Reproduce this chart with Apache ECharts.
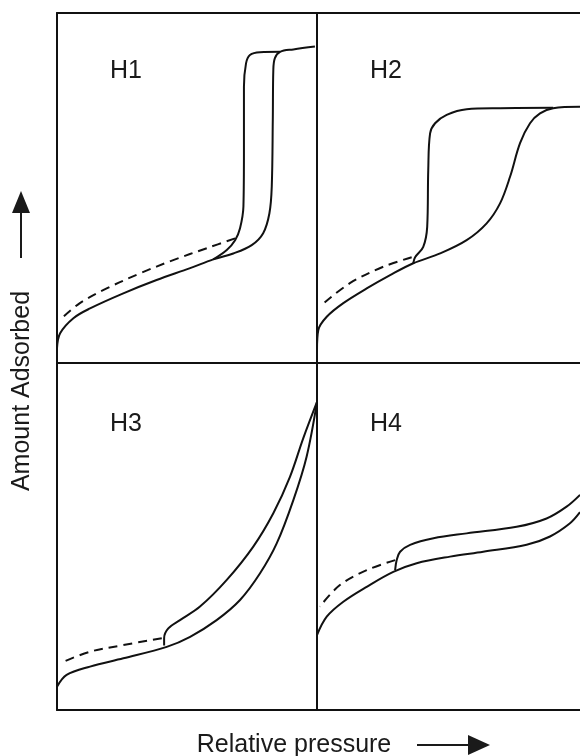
<!DOCTYPE html>
<html>
<head>
<meta charset="utf-8">
<script src="https://cdn.jsdelivr.net/npm/echarts@6/dist/echarts.min.js"></script>
<style>
html,body{margin:0;padding:0;background:#fff;}
#chart{width:580px;height:756px;}
</style>
</head>
<body>
<div id="chart"></div>
<script>
// Panel labels and axis titles
const panelLabels = ['H1', 'H2', 'H3', 'H4'];
const xTitle = 'Relative pressure';
const yTitle = 'Amount Adsorbed';

// H1: [relative pressure, amount]
const h1Ads = [[0,4.2],[0.012,8.5],[0.063,12.8],[0.127,15.6],[0.255,19.9],[0.383,23.7],[0.512,27.1],[0.601,29.6],[0.678,31.3],[0.749,33.7],[0.793,37.1],[0.817,42.8],[0.826,50.4],[0.830,69.4],[0.832,83.7],[0.838,87.1],[0.858,88.9],[0.909,89.6],[0.992,90.4]];
const h1Des = [[0.858,88.9],[0.781,88.8],[0.742,88.0],[0.727,85.6],[0.719,78.9],[0.719,59.9],[0.717,44.7],[0.704,38.5],[0.685,35.1],[0.653,32.3],[0.601,29.6]];
const h1Dash = [[0.685,35.6],[0.576,32.8],[0.447,29.4],[0.319,25.6],[0.191,21.3],[0.088,17.1],[0.018,12.8]];

// H2
const h2Ads = [[0,3.7],[0.005,9.4],[0.037,13.2],[0.100,17.1],[0.189,21.3],[0.278,25.1],[0.366,28.5],[0.468,31.3],[0.569,35.1],[0.645,39.9],[0.696,45.6],[0.734,53.2],[0.772,62.8],[0.810,68.5],[0.848,71.3],[0.898,72.8],[1.0,73.2]];
const h2Des = [[0.898,72.9],[0.696,72.8],[0.569,72.5],[0.493,70.9],[0.449,68.5],[0.430,65.6],[0.423,55.1],[0.419,38.9],[0.404,33.2],[0.373,30.2],[0.366,28.5]];
const h2Dash = [[0.360,30.2],[0.252,27.5],[0.125,22.8],[0.018,16.6]];

// H3
const h3Ads = [[0,6.7],[0.037,10.1],[0.127,12.5],[0.255,14.9],[0.422,18.2],[0.512,21.1],[0.614,25.9],[0.704,31.7],[0.781,39.4],[0.845,48.0],[0.909,60.5],[0.960,73.0],[1.0,88.8]];
const h3Des = [[1.0,88.8],[0.947,78.3],[0.896,67.2],[0.832,56.7],[0.755,47.1],[0.653,37.5],[0.550,29.8],[0.473,25.9],[0.428,23.5],[0.412,20.7],[0.412,18.6]];
const h3Dash = [[0.403,20.7],[0.255,18.7],[0.127,16.8],[0.012,13.5]];

// H4
const h4Ads = [[0,21.6],[0.037,26.9],[0.100,31.2],[0.189,35.5],[0.290,39.8],[0.379,42.3],[0.506,44.2],[0.632,45.6],[0.797,47.6],[0.886,50.0],[0.962,53.8],[1.0,57.0]];
const h4Des = [[1.0,62.0],[0.949,58.6],[0.873,55.2],[0.759,52.8],[0.569,50.9],[0.443,49.5],[0.354,47.6],[0.316,45.6],[0.303,43.2],[0.297,40.3]];
const h4Dash = [[0.297,43.2],[0.189,40.3],[0.087,36.0],[0.011,29.8]];

const panels = [
  {ads: h1Ads, des: h1Des, dash: h1Dash},
  {ads: h2Ads, des: h2Des, dash: h2Dash},
  {ads: h3Ads, des: h3Des, dash: h3Dash},
  {ads: h4Ads, des: h4Des, dash: h4Dash}
];

const gridRects = [
  {left: 57, top: 13, width: 260, height: 350},
  {left: 317, top: 13, width: 263, height: 350},
  {left: 57, top: 363, width: 260, height: 347},
  {left: 317, top: 363, width: 263, height: 347}
];

const ink = '#111';
const grids = gridRects.map(r => Object.assign({show: false, containLabel: false}, r));
const frameLine = {show:true, onZero:false, lineStyle:{color:ink, width:2}};
const base = {axisTick:{show:false}, axisLabel:{show:false}, splitLine:{show:false}};
const xAxes = gridRects.map((r,i) => Object.assign({type:'value', gridIndex:i, min:0, max:1, position:'bottom', axisLine:frameLine}, base));
// top frame lines for the upper panels
xAxes.push(Object.assign({type:'value', gridIndex:0, min:0, max:1, position:'top', axisLine:frameLine}, base));
xAxes.push(Object.assign({type:'value', gridIndex:1, min:0, max:1, position:'top', axisLine:frameLine}, base));
const yAxes = gridRects.map((r,i) => Object.assign({type:'value', gridIndex:i, min:0, max:100, position:'left', axisLine:frameLine}, base));

const series = [];
panels.forEach((p, i) => {
  const s = {type:'line', xAxisIndex:i, yAxisIndex:i, showSymbol:false, symbol:'none', smooth:0.35, animation:false, silent:true};
  series.push(Object.assign({}, s, {data:p.ads, lineStyle:{color:ink, width:2}}));
  series.push(Object.assign({}, s, {data:p.des, lineStyle:{color:ink, width:2}}));
  series.push(Object.assign({}, s, {data:p.dash, lineStyle:{color:ink, width:2, type:[9,6]}}));
});

const font = '"Liberation Sans", Arial, Helvetica, sans-serif';
const labelPos = [[110,73],[370,73],[110,426],[370,426]];
const graphic = panelLabels.map((t,i) => ({
  type:'text', left: labelPos[i][0], top: labelPos[i][1]-14,
  style:{text:t, font:'25px ' + font, fill:'#1a1a1a'}
}));
graphic.push({
  type:'text', x:294, y:745, style:{text:xTitle, font:'25px ' + font, fill:'#1a1a1a', align:'center', verticalAlign:'middle'}
});
graphic.push({
  type:'line', shape:{x1:417, y1:745, x2:470, y2:745}, style:{stroke:'#1a1a1a', lineWidth:2}
});
graphic.push({
  type:'polygon', shape:{points:[[468,735],[490,745],[468,755]]}, style:{fill:'#1a1a1a'}
});
graphic.push({
  type:'text', x:22, y:391, rotation:Math.PI/2, style:{text:yTitle, font:'25px ' + font, fill:'#1a1a1a', align:'center', verticalAlign:'middle'}
});
graphic.push({
  type:'line', shape:{x1:21, y1:258, x2:21, y2:211}, style:{stroke:'#1a1a1a', lineWidth:2}
});
graphic.push({
  type:'polygon', shape:{points:[[12,213],[21,191],[30,213]]}, style:{fill:'#1a1a1a'}
});

const chart = echarts.init(document.getElementById('chart'), null, {renderer:'canvas'});
chart.setOption({
  animation:false,
  backgroundColor:'#fff',
  grid: grids,
  xAxis: xAxes,
  yAxis: yAxes,
  series: series,
  graphic: graphic
});
</script>
</body>
</html>
